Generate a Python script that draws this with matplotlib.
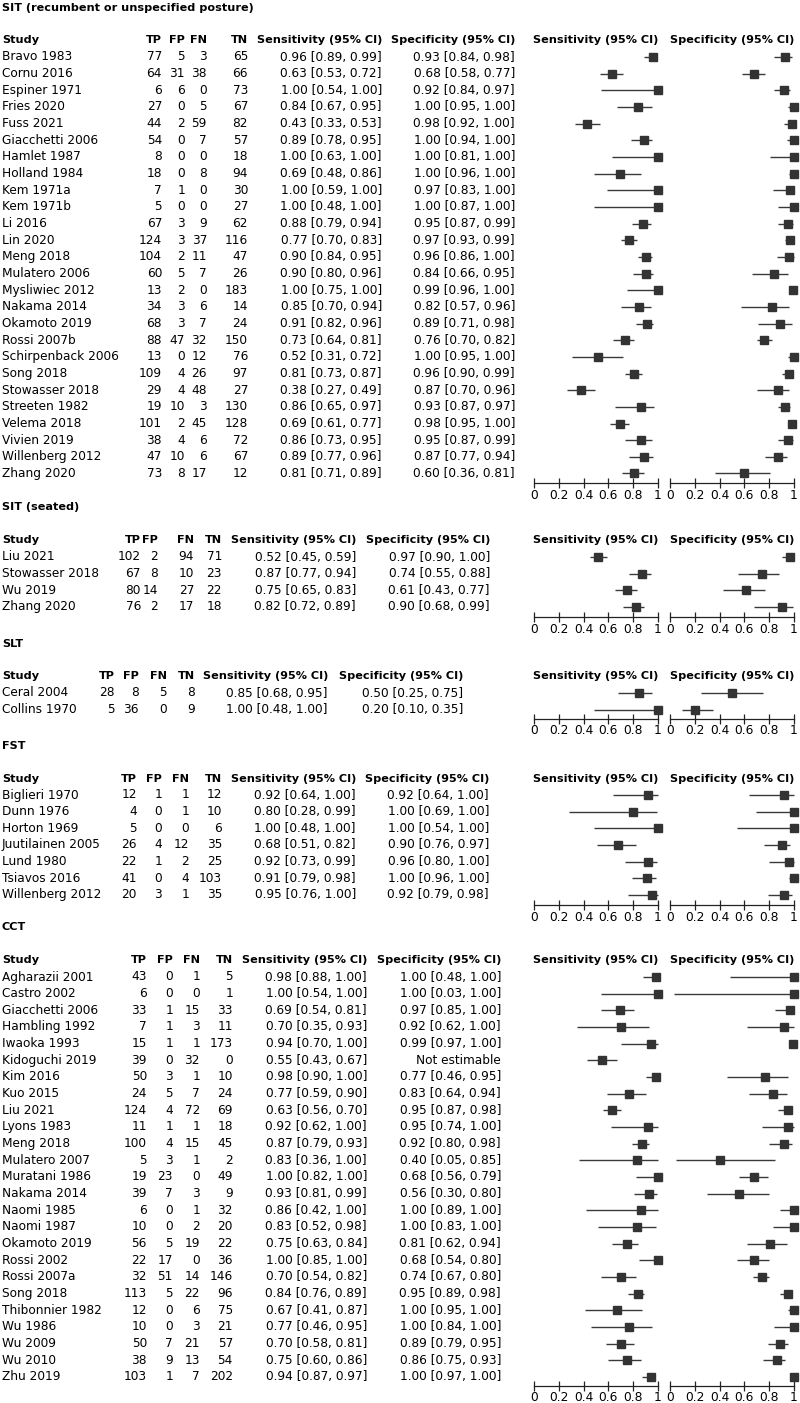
import matplotlib
matplotlib.use("Agg")
import matplotlib.pyplot as plt

plt.rcParams['font.family'] = ['DejaVu Sans']

# ---------------- data ----------------
# SIT (recumbent or unspecified posture)
sit_studies = ["Bravo 1983", "Cornu 2016", "Espiner 1971", "Fries 2020", "Fuss 2021",
               "Giacchetti 2006", "Hamlet 1987", "Holland 1984", "Kem 1971a", "Kem 1971b",
               "Li 2016", "Lin 2020", "Meng 2018", "Mulatero 2006", "Mysliwiec 2012",
               "Nakama 2014", "Okamoto 2019", "Rossi 2007b", "Schirpenback 2006", "Song 2018",
               "Stowasser 2018", "Streeten 1982", "Velema 2018", "Vivien 2019",
               "Willenberg 2012", "Zhang 2020"]
sit_tp = [77, 64, 6, 27, 44, 54, 8, 18, 7, 5, 67, 124, 104, 60, 13, 34, 68, 88, 13, 109, 29, 19, 101, 38, 47, 73]
sit_fp = [5, 31, 6, 0, 2, 0, 0, 0, 1, 0, 3, 3, 2, 5, 2, 3, 3, 47, 0, 4, 4, 10, 2, 4, 10, 8]
sit_fn = [3, 38, 0, 5, 59, 7, 0, 8, 0, 0, 9, 37, 11, 7, 0, 6, 7, 32, 12, 26, 48, 3, 45, 6, 6, 17]
sit_tn = [65, 66, 73, 67, 82, 57, 18, 94, 30, 27, 62, 116, 47, 26, 183, 14, 24, 150, 76, 97, 27, 130, 128, 72, 67, 12]
sit_sens = [0.96, 0.63, 1.00, 0.84, 0.43, 0.89, 1.00, 0.69, 1.00, 1.00, 0.88, 0.77, 0.90, 0.90, 1.00, 0.85, 0.91, 0.73, 0.52, 0.81, 0.38, 0.86, 0.69, 0.86, 0.89, 0.81]
sit_sens_lo = [0.89, 0.53, 0.54, 0.67, 0.33, 0.78, 0.63, 0.48, 0.59, 0.48, 0.79, 0.70, 0.84, 0.80, 0.75, 0.70, 0.82, 0.64, 0.31, 0.73, 0.27, 0.65, 0.61, 0.73, 0.77, 0.71]
sit_sens_hi = [0.99, 0.72, 1.00, 0.95, 0.53, 0.95, 1.00, 0.86, 1.00, 1.00, 0.94, 0.83, 0.95, 0.96, 1.00, 0.94, 0.96, 0.81, 0.72, 0.87, 0.49, 0.97, 0.77, 0.95, 0.96, 0.89]
sit_spec = [0.93, 0.68, 0.92, 1.00, 0.98, 1.00, 1.00, 1.00, 0.97, 1.00, 0.95, 0.97, 0.96, 0.84, 0.99, 0.82, 0.89, 0.76, 1.00, 0.96, 0.87, 0.93, 0.98, 0.95, 0.87, 0.60]
sit_spec_lo = [0.84, 0.58, 0.84, 0.95, 0.92, 0.94, 0.81, 0.96, 0.83, 0.87, 0.87, 0.93, 0.86, 0.66, 0.96, 0.57, 0.71, 0.70, 0.95, 0.90, 0.70, 0.87, 0.95, 0.87, 0.77, 0.36]
sit_spec_hi = [0.98, 0.77, 0.97, 1.00, 1.00, 1.00, 1.00, 1.00, 1.00, 1.00, 0.99, 0.99, 1.00, 0.95, 1.00, 0.96, 0.98, 0.82, 1.00, 0.99, 0.96, 0.97, 1.00, 0.99, 0.94, 0.81]

# SIT (seated)
sits_studies = ["Liu 2021", "Stowasser 2018", "Wu 2019", "Zhang 2020"]
sits_tp = [102, 67, 80, 76]
sits_fp = [2, 8, 14, 2]
sits_fn = [94, 10, 27, 17]
sits_tn = [71, 23, 22, 18]
sits_sens = [0.52, 0.87, 0.75, 0.82]
sits_sens_lo = [0.45, 0.77, 0.65, 0.72]
sits_sens_hi = [0.59, 0.94, 0.83, 0.89]
sits_spec = [0.97, 0.74, 0.61, 0.90]
sits_spec_lo = [0.90, 0.55, 0.43, 0.68]
sits_spec_hi = [1.00, 0.88, 0.77, 0.99]

# SLT
slt_studies = ["Ceral 2004", "Collins 1970"]
slt_tp = [28, 5]
slt_fp = [8, 36]
slt_fn = [5, 0]
slt_tn = [8, 9]
slt_sens = [0.85, 1.00]
slt_sens_lo = [0.68, 0.48]
slt_sens_hi = [0.95, 1.00]
slt_spec = [0.50, 0.20]
slt_spec_lo = [0.25, 0.10]
slt_spec_hi = [0.75, 0.35]

# FST
fst_studies = ["Biglieri 1970", "Dunn 1976", "Horton 1969", "Juutilainen 2005",
               "Lund 1980", "Tsiavos 2016", "Willenberg 2012"]
fst_tp = [12, 4, 5, 26, 22, 41, 20]
fst_fp = [1, 0, 0, 4, 1, 0, 3]
fst_fn = [1, 1, 0, 12, 2, 4, 1]
fst_tn = [12, 10, 6, 35, 25, 103, 35]
fst_sens = [0.92, 0.80, 1.00, 0.68, 0.92, 0.91, 0.95]
fst_sens_lo = [0.64, 0.28, 0.48, 0.51, 0.73, 0.79, 0.76]
fst_sens_hi = [1.00, 0.99, 1.00, 0.82, 0.99, 0.98, 1.00]
fst_spec = [0.92, 1.00, 1.00, 0.90, 0.96, 1.00, 0.92]
fst_spec_lo = [0.64, 0.69, 0.54, 0.76, 0.80, 0.96, 0.79]
fst_spec_hi = [1.00, 1.00, 1.00, 0.97, 1.00, 1.00, 0.98]

# CCT
cct_studies = ["Agharazii 2001", "Castro 2002", "Giacchetti 2006", "Hambling 1992",
               "Iwaoka 1993", "Kidoguchi 2019", "Kim 2016", "Kuo 2015", "Liu 2021",
               "Lyons 1983", "Meng 2018", "Mulatero 2007", "Muratani 1986", "Nakama 2014",
               "Naomi 1985", "Naomi 1987", "Okamoto 2019", "Rossi 2002", "Rossi 2007a",
               "Song 2018", "Thibonnier 1982", "Wu 1986", "Wu 2009", "Wu 2010", "Zhu 2019"]
cct_tp = [43, 6, 33, 7, 15, 39, 50, 24, 124, 11, 100, 5, 19, 39, 6, 10, 56, 22, 32, 113, 12, 10, 50, 38, 103]
cct_fp = [0, 0, 1, 1, 1, 0, 3, 5, 4, 1, 4, 3, 23, 7, 0, 0, 5, 17, 51, 5, 0, 0, 7, 9, 1]
cct_fn = [1, 0, 15, 3, 1, 32, 1, 7, 72, 1, 15, 1, 0, 3, 1, 2, 19, 0, 14, 22, 6, 3, 21, 13, 7]
cct_tn = [5, 1, 33, 11, 173, 0, 10, 24, 69, 18, 45, 2, 49, 9, 32, 20, 22, 36, 146, 96, 75, 21, 57, 54, 202]
cct_sens = [0.98, 1.00, 0.69, 0.70, 0.94, 0.55, 0.98, 0.77, 0.63, 0.92, 0.87, 0.83, 1.00, 0.93, 0.86, 0.83, 0.75, 1.00, 0.70, 0.84, 0.67, 0.77, 0.70, 0.75, 0.94]
cct_sens_lo = [0.88, 0.54, 0.54, 0.35, 0.70, 0.43, 0.90, 0.59, 0.56, 0.62, 0.79, 0.36, 0.82, 0.81, 0.42, 0.52, 0.63, 0.85, 0.54, 0.76, 0.41, 0.46, 0.58, 0.60, 0.87]
cct_sens_hi = [1.00, 1.00, 0.81, 0.93, 1.00, 0.67, 1.00, 0.90, 0.70, 1.00, 0.93, 1.00, 1.00, 0.99, 1.00, 0.98, 0.84, 1.00, 0.82, 0.89, 0.87, 0.95, 0.81, 0.86, 0.97]
cct_spec = [1.00, 1.00, 0.97, 0.92, 0.99, None, 0.77, 0.83, 0.95, 0.95, 0.92, 0.40, 0.68, 0.56, 1.00, 1.00, 0.81, 0.68, 0.74, 0.95, 1.00, 1.00, 0.89, 0.86, 1.00]
cct_spec_lo = [0.48, 0.03, 0.85, 0.62, 0.97, None, 0.46, 0.64, 0.87, 0.74, 0.80, 0.05, 0.56, 0.30, 0.89, 0.83, 0.62, 0.54, 0.67, 0.89, 0.95, 0.84, 0.79, 0.75, 0.97]
cct_spec_hi = [1.00, 1.00, 1.00, 1.00, 1.00, None, 0.95, 0.94, 0.98, 1.00, 0.98, 0.85, 0.79, 0.80, 1.00, 1.00, 0.94, 0.80, 0.80, 0.98, 1.00, 1.00, 0.95, 0.93, 1.00]

tick_values = [0, 0.2, 0.4, 0.6, 0.8, 1]
tick_labels = ["0", "0.2", "0.4", "0.6", "0.8", "1"]

# ---------------- layout ----------------
W, H = 800, 1403
ROW = 16.66
FS = 8.7
FSB = 8.1
MCOL = '#333333'
LCOL = '#3a3a3a'

sections = [
    dict(title="SIT (recumbent or unspecified posture)", ty=8, hy=40, ry=57, ax_gap=10,
         cols=(162, 185, 207, 248, 382, 515),
         d=(sit_studies, sit_tp, sit_fp, sit_fn, sit_tn, sit_sens, sit_sens_lo, sit_sens_hi,
            sit_spec, sit_spec_lo, sit_spec_hi)),
    dict(title="SIT (seated)", ty=507, hy=540, ry=557, ax_gap=10,
         cols=(141, 158, 194, 222, 356, 490),
         d=(sits_studies, sits_tp, sits_fp, sits_fn, sits_tn, sits_sens, sits_sens_lo, sits_sens_hi,
            sits_spec, sits_spec_lo, sits_spec_hi)),
    dict(title="SLT", ty=644, hy=676, ry=693, ax_gap=9,
         cols=(115, 139, 167, 195, 328, 463),
         d=(slt_studies, slt_tp, slt_fp, slt_fn, slt_tn, slt_sens, slt_sens_lo, slt_sens_hi,
            slt_spec, slt_spec_lo, slt_spec_hi)),
    dict(title="FST", ty=746, hy=779, ry=795, ax_gap=10,
         cols=(137, 162, 189, 222, 356, 489),
         d=(fst_studies, fst_tp, fst_fp, fst_fn, fst_tn, fst_sens, fst_sens_lo, fst_sens_hi,
            fst_spec, fst_spec_lo, fst_spec_hi)),
    dict(title="CCT", ty=927, hy=960, ry=977, ax_gap=9,
         cols=(147, 173, 200, 233, 367, 501),
         d=(cct_studies, cct_tp, cct_fp, cct_fn, cct_tn, cct_sens, cct_sens_lo, cct_sens_hi,
            cct_spec, cct_spec_lo, cct_spec_hi)),
]

SENS_X = (534, 658)
SPEC_X = (670, 794)

fig = plt.figure(figsize=(W / 100, H / 100), dpi=100)
bg = fig.add_axes([0, 0, 1, 1])
bg.set_xlim(0, W)
bg.set_ylim(H, 0)
bg.axis('off')


def fmt(v, lo, hi):
    if v is None:
        return "Not estimable"
    return f"{v:.2f} [{lo:.2f}, {hi:.2f}]"


def forest(x0x1, ytop, ybot, ry, vals, los, his):
    x0, x1 = x0x1
    ax = fig.add_axes([x0 / W, 1 - ybot / H, (x1 - x0) / W, (ybot - ytop) / H])
    ax.set_xlim(0, 1)
    ax.set_ylim((ybot - ry) / ROW, (ytop - ry) / ROW)
    ax.patch.set_alpha(0)
    for s in ('top', 'right', 'left'):
        ax.spines[s].set_visible(False)
    ax.spines['bottom'].set_linewidth(0.9)
    ax.spines['bottom'].set_color('#222222')
    ax.set_yticks([])
    ax.set_xticks(tick_values)
    ax.set_xticklabels(tick_labels, fontsize=8.8)
    ax.tick_params(axis='x', direction='inout', length=7, width=0.9, pad=0.5, color='#222222')
    for i, (v, lo, hi) in enumerate(zip(vals, los, his)):
        if v is None:
            continue
        ax.plot([lo, hi], [i, i], color=LCOL, lw=1.0, clip_on=False, solid_capstyle='butt')
        ax.plot([v], [i], marker='s', ms=5.8, color=MCOL, mec=MCOL, clip_on=False)
    return ax


for sec in sections:
    names, tp, fp, fn, tn, se, selo, sehi, sp, splo, sphi = sec['d']
    cTP, cFP, cFN, cTN, cSE, cSP = sec['cols']
    bg.text(2, sec['ty'], sec['title'], fontsize=FSB, fontweight='bold', va='center', ha='left')
    hy = sec['hy']
    bg.text(2, hy, "Study", fontsize=FSB, fontweight='bold', va='center', ha='left')
    for lbl, cx in zip(["TP", "FP", "FN", "TN", "Sensitivity (95% CI)", "Specificity (95% CI)"],
                       [cTP, cFP, cFN, cTN, cSE, cSP]):
        bg.text(cx, hy, lbl, fontsize=FSB, fontweight='bold', va='center', ha='right')
    bg.text(sum(SENS_X) / 2, hy, "Sensitivity (95% CI)", fontsize=FSB, fontweight='bold',
            va='center', ha='center')
    bg.text(sum(SPEC_X) / 2, hy, "Specificity (95% CI)", fontsize=FSB, fontweight='bold',
            va='center', ha='center')
    ry = sec['ry']
    for i, nm in enumerate(names):
        y = ry + i * ROW
        bg.text(2, y, nm, fontsize=FS, va='center', ha='left')
        for val, cx in zip([tp[i], fp[i], fn[i], tn[i]], [cTP, cFP, cFN, cTN]):
            bg.text(cx, y, str(val), fontsize=FS, va='center', ha='right')
        bg.text(cSE, y, fmt(se[i], selo[i], sehi[i]), fontsize=FS, va='center', ha='right')
        bg.text(cSP, y, fmt(sp[i], splo[i], sphi[i]), fontsize=FS, va='center', ha='right')
    n = len(names)
    ytop = ry - ROW / 2
    ybot = ry + (n - 1) * ROW + sec['ax_gap']
    forest(SENS_X, ytop, ybot, ry, se, selo, sehi)
    forest(SPEC_X, ytop, ybot, ry, sp, splo, sphi)

fig.savefig("out.png", dpi=100)
